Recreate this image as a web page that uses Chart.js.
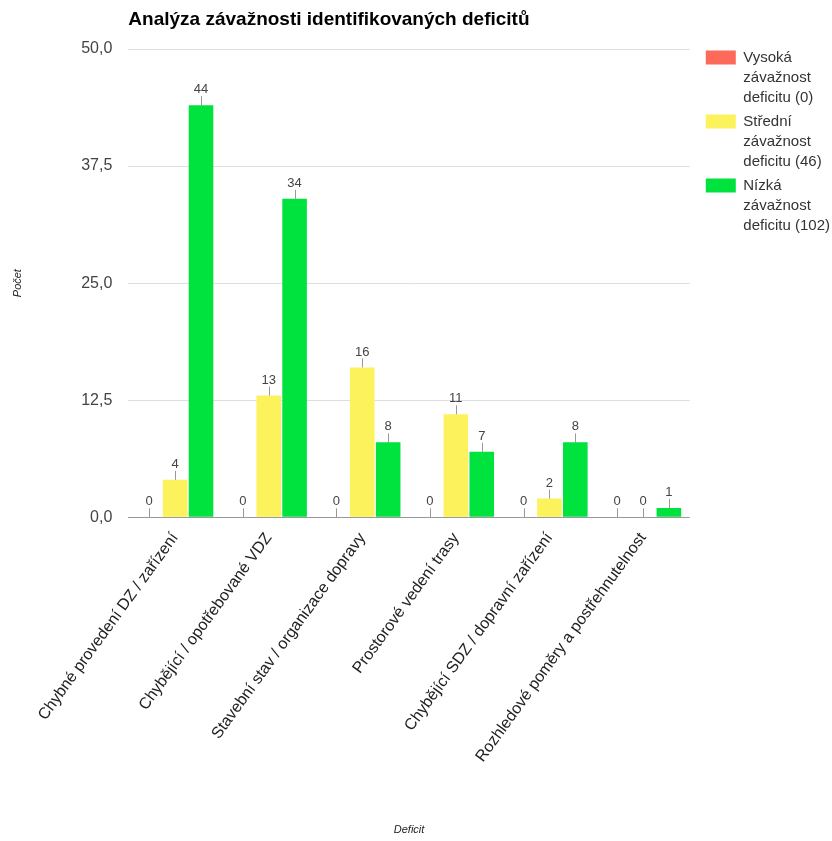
<!DOCTYPE html>
<html>
<head>
<meta charset="utf-8">
<script src="https://cdn.jsdelivr.net/npm/chart.js@4.4.1/dist/chart.umd.min.js"></script>
<style>
  body { margin: 0; background: #fff; }
  #wrap { width: 832px; height: 841px; }
</style>
</head>
<body>
<div id="wrap"><canvas id="graf" width="832" height="841"></canvas></div>
<script>
// Kategorie deficitů (osa X)
const kategorie = [
  'Chybné provedení DZ / zařízení',
  'Chybějící / opotřebované VDZ',
  'Stavební stav / organizace dopravy',
  'Prostorové vedení trasy',
  'Chybějící SDZ / dopravní zařízení',
  'Rozhledové poměry a postřehnutelnost'
];

// Počty podle závažnosti
const vysoka = [0, 0, 0, 0, 0, 0];
const stredni = [4, 13, 16, 11, 2, 0];
const nizka = [44, 34, 8, 7, 8, 1];

const nazvyRad = [
  'Vysoká závažnost deficitu (0)',
  'Střední závažnost deficitu (46)',
  'Nízká závažnost deficitu (102)'
];

// Hodnoty na ose Y
const osaYTicks = [0, 12.5, 25, 37.5, 50];

const pismo = '"Liberation Sans", Arial, sans-serif';
const titulek = 'Analýza závažnosti identifikovaných deficitů';

// Titulek zarovnaný s levým okrajem grafu
const titulekPlugin = {
  id: 'titulek',
  afterDraw(chart) {
    const ctx = chart.ctx;
    ctx.save();
    ctx.font = 'bold 19px ' + pismo;
    ctx.fillStyle = '#000';
    ctx.textAlign = 'left';
    ctx.textBaseline = 'middle';
    ctx.fillText(titulek, chart.chartArea.left, 20);
    ctx.restore();
  }
};

// Popisky hodnot nad sloupci s malou čárkou
const popiskyPlugin = {
  id: 'popisky',
  afterDatasetsDraw(chart) {
    const ctx = chart.ctx;
    ctx.save();
    ctx.font = '13px ' + pismo;
    ctx.textAlign = 'center';
    ctx.textBaseline = 'bottom';
    chart.data.datasets.forEach((ds, i) => {
      const meta = chart.getDatasetMeta(i);
      meta.data.forEach((bar, j) => {
        const top = bar.y;
        ctx.strokeStyle = '#999';
        ctx.lineWidth = 1;
        ctx.beginPath();
        ctx.moveTo(Math.round(bar.x) + 0.5, top);
        ctx.lineTo(Math.round(bar.x) + 0.5, top - 9);
        ctx.stroke();
        ctx.fillStyle = '#444';
        ctx.fillText(String(ds.data[j]), bar.x, top - 9);
      });
    });
    ctx.restore();
  }
};

const ctx = document.getElementById('graf').getContext('2d');
new Chart(ctx, {
  type: 'bar',
  data: {
    labels: kategorie,
    datasets: [
      { label: nazvyRad[0], data: vysoka, backgroundColor: '#fe6a5a' },
      { label: nazvyRad[1], data: stredni, backgroundColor: '#fcf25b' },
      { label: nazvyRad[2], data: nizka, backgroundColor: '#00e23e' }
    ]
  },
  options: {
    responsive: false,
    animation: false,
    categoryPercentage: 0.83,
    barPercentage: 0.95,
    layout: { padding: { top: 46, left: 0, right: -8, bottom: 0 } },
    plugins: {
      title: { display: false },
      tooltip: { enabled: false },
      legend: {
        position: 'right',
        align: 'start',
        labels: {
          boxWidth: 30,
          boxHeight: 14,
          padding: 4,
          color: '#333',
          font: { family: pismo, size: 15, lineHeight: 1.333 },
          generateLabels(chart) {
            const zakl = Chart.defaults.plugins.legend.labels.generateLabels(chart);
            return zakl.map(p => {
              const slova = p.text.split(' ');
              p.text = [slova[0], slova[1], slova.slice(2).join(' ')];
              p.lineWidth = 0;
              return p;
            });
          }
        }
      }
    },
    scales: {
      x: {
        grid: { display: false },
        border: { display: false },
        ticks: {
          color: '#222',
          font: { family: pismo, size: 16 },
          minRotation: 54,
          maxRotation: 54,
          padding: 4
        },
        title: {
          display: true,
          text: 'Deficit',
          color: '#222',
          font: { family: pismo, size: 11, style: 'italic' },
          padding: { top: 54, bottom: 4 }
        }
      },
      y: {
        min: 0,
        max: 50,
        afterBuildTicks(scale) {
          scale.ticks = osaYTicks.map(v => ({ value: v }));
        },
        grid: {
          drawTicks: false,
          color: c => c.tick && c.tick.value === 0 ? '#999' : '#dedede'
        },
        border: { display: false },
        ticks: {
          color: '#444',
          font: { family: pismo, size: 16 },
          padding: 16,
          callback: v => v.toFixed(1).replace('.', ',')
        },
        title: {
          display: true,
          text: 'Počet',
          color: '#222',
          font: { family: pismo, size: 11, style: 'italic' },
          padding: { top: 11, bottom: 41 }
        }
      },
      // prázdné osy jen pro odsazení legendy od grafu
      mezera: {
        position: 'right',
        display: true,
        grid: { display: false },
        border: { display: false },
        ticks: { display: false },
        afterFit(scale) { scale.width = 12; }
      },
      mezeraNahore: {
        type: 'category',
        position: 'top',
        display: true,
        grid: { display: false },
        border: { display: false },
        ticks: { display: false },
        afterFit(scale) { scale.height = 3; }
      }
    }
  },
  plugins: [titulekPlugin, popiskyPlugin]
});
</script>
</body>
</html>
